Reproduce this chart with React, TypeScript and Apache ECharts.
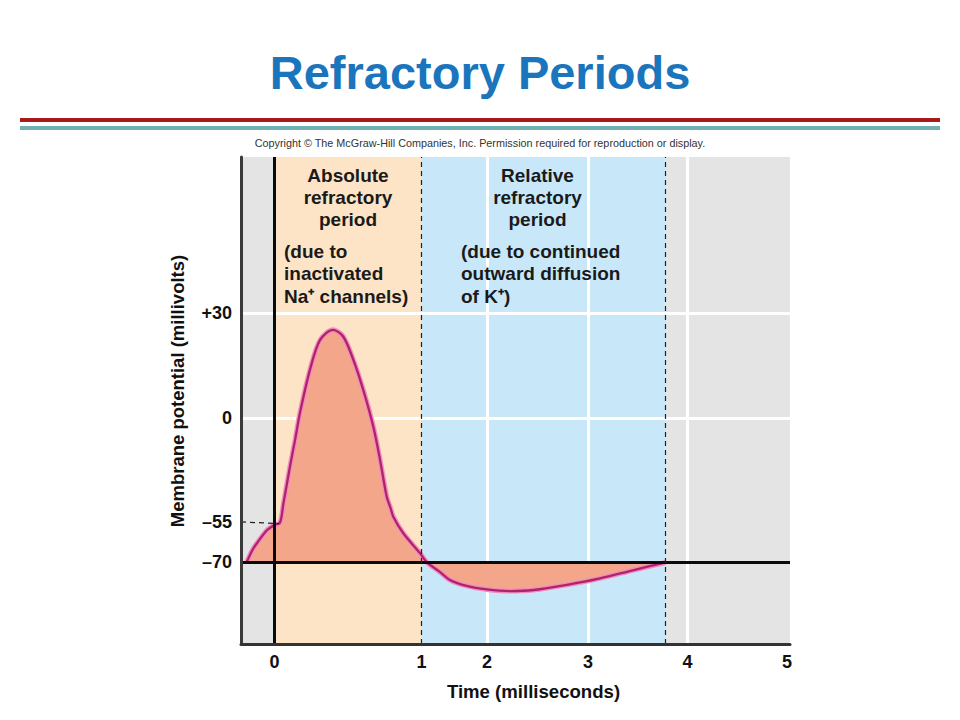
import React, { useEffect, useRef } from "react";
import * as echarts from "echarts";

// ---- Data ----
const TIME_MS = [
  -0.19, -0.15, -0.12, -0.05, 0.0, 0.037, 0.06, 0.105, 0.14, 0.173, 0.241, 0.31,
  0.398, 0.468, 0.536, 0.604, 0.672, 0.718, 0.763, 0.79, 0.808, 0.876, 0.99, 1.084,
  1.28, 1.435, 1.69, 2.0, 2.23, 2.46, 2.79, 3.12, 3.46, 3.78,
];
const POTENTIAL_MV = [
  -70, -65.4, -62.9, -58.0, -56.1, -55.3, -45.6, -25.8, -11.6, 1.4, 13.8, 22.4,
  25.3, 23.3, 16.7, 8.0, -4.6, -22.2, -41.6, -47.8, -52.2, -59.2, -66.6, -70,
  -73.5, -76.5, -78.7, -80.0, -80.6, -80.2, -78.3, -75.9, -72.8, -70,
];

const TIME_TICKS = [0, 1, 2, 3, 4, 5];
const TIME_TICK_LABELS = ["0", "1", "2", "3", "4", "5"];
const VOLT_TICKS = [-70, -55, 0, 30];
const VOLT_TICK_LABELS = ["–70", "–55", "0", "+30"];
const GRID_TIMES = [2, 3, 4];
const GRID_VOLTS = [0, 30];
const RESTING_MV = -70;
const THRESHOLD_MV = -55;
const ABSOLUTE_PERIOD = [0, 1];
const RELATIVE_PERIOD = [1, 3.78];
const TIME_RANGE = [-0.228, 5.03];
const VOLT_RANGE = [-100.2, 74.9];

// ---- Schematic (piecewise-linear) axis scales of the original figure ----
const TIME_SCALE_IN = [0, 1, 2, 3, 4, 5];
const TIME_SCALE_OUT = [0, 147, 212.5, 313.5, 413, 512.5];
const VOLT_SCALE_IN = [-70, -55, 0, 30];
const VOLT_SCALE_OUT = [0, 40.5, 144.5, 249];

function piecewise(v: number, ins: number[], outs: number[]) {
  let i = 0;
  if (v <= ins[0]) i = 0;
  else if (v >= ins[ins.length - 1]) i = ins.length - 2;
  else {
    while (i < ins.length - 2 && v > ins[i + 1]) i++;
  }
  const f = (v - ins[i]) / (ins[i + 1] - ins[i]);
  return outs[i] + f * (outs[i + 1] - outs[i]);
}
const tx = (ms: number) => piecewise(ms, TIME_SCALE_IN, TIME_SCALE_OUT);
const vy = (mv: number) => piecewise(mv, VOLT_SCALE_IN, VOLT_SCALE_OUT);

const FONT = "'Liberation Sans', Arial, Helvetica, sans-serif";

function labelFor(value: number, ticks: number[], labels: string[], map: (v: number) => number) {
  for (let i = 0; i < ticks.length; i++) {
    if (Math.abs(map(ticks[i]) - value) < 1) return labels[i];
  }
  return "";
}

export default function App() {
  const ref = useRef<HTMLDivElement>(null);

  useEffect(() => {
    if (!ref.current) return;
    const chart = echarts.init(ref.current, undefined, { renderer: "svg" });
    const curve = TIME_MS.map((t, i) => [tx(t), vy(POTENTIAL_MV[i])]);
    const dashed = { color: "#222", width: 1.2, type: [5, 4] as any };
    const solidBlack = { color: "#0a0a0a", width: 3, type: "solid" as any };

    const textStyle = (extra: any) => ({
      fontFamily: FONT,
      fontSize: 19,
      fontWeight: "bold",
      fill: "#1a1a1a",
      lineHeight: 22.5,
      verticalAlign: "top",
      textVerticalAlign: "top",
      ...extra,
    });

    chart.setOption({
      animation: false,
      backgroundColor: "#ffffff",
      title: {
        text: "Refractory Periods",
        subtext:
          "Copyright © The McGraw-Hill Companies, Inc. Permission required for reproduction or display.",
        left: "center",
        top: 44,
        itemGap: 41,
        textStyle: { fontSize: 47, fontWeight: "bold", color: "#1b75bc", fontFamily: FONT },
        subtextStyle: { fontSize: 10.8, color: "#333", fontFamily: FONT },
      },
      grid: {
        left: 241,
        right: 170,
        top: 157,
        bottom: 76,
        show: true,
        backgroundColor: "#e4e4e4",
        borderWidth: 0,
      },
      xAxis: {
        type: "value",
        min: tx(TIME_RANGE[0]),
        max: tx(TIME_RANGE[1]),
        z: 6,
        axisLine: { show: true, onZero: false, lineStyle: { color: "#333", width: 3 } },
        axisTick: { show: false },
        splitLine: { show: false },
        axisLabel: {
          customValues: TIME_TICKS.map(tx),
          formatter: (v: number) => labelFor(v, TIME_TICKS, TIME_TICK_LABELS, tx),
          fontSize: 18,
          fontWeight: "bold",
          color: "#111",
          fontFamily: FONT,
          margin: 9,
        },
        name: "Time (milliseconds)",
        nameLocation: "middle",
        nameGap: 38,
        nameTextStyle: {
          fontSize: 18.6,
          fontWeight: "bold",
          color: "#111",
          fontFamily: FONT,
          padding: [0, 0, 0, 36],
        },
      },
      yAxis: {
        type: "value",
        min: vy(VOLT_RANGE[0]),
        max: vy(VOLT_RANGE[1]),
        z: 6,
        axisLine: { show: true, onZero: false, lineStyle: { color: "#3a3a3a", width: 3 } },
        axisTick: { show: false },
        splitLine: { show: false },
        axisLabel: {
          customValues: VOLT_TICKS.map(vy),
          formatter: (v: number) => labelFor(v, VOLT_TICKS, VOLT_TICK_LABELS, vy),
          fontSize: 18,
          fontWeight: "bold",
          color: "#111",
          fontFamily: FONT,
          margin: 9,
        },
        name: "Membrane potential (millivolts)",
        nameLocation: "middle",
        nameGap: 54,
        nameRotate: 90,
        nameTextStyle: {
          fontSize: 18.5,
          fontWeight: "bold",
          color: "#111",
          fontFamily: FONT,
          padding: [0, 0, 0, 19],
        },
      },
      series: [
        {
          type: "line",
          name: "Membrane potential area",
          data: curve,
          smooth: 0.3,
          symbol: "none",
          silent: true,
          z: 3,
          lineStyle: { color: "#f08dbd", width: 5 },
          areaStyle: { color: "#f4a68b", opacity: 1, origin: vy(RESTING_MV) },
          markArea: {
            z: 1,
            silent: true,
            label: { show: false },
            data: [
              [
                { xAxis: tx(ABSOLUTE_PERIOD[0]), itemStyle: { color: "#fde4c6", opacity: 1 } },
                { xAxis: tx(ABSOLUTE_PERIOD[1]) },
              ],
              [
                { xAxis: tx(RELATIVE_PERIOD[0]), itemStyle: { color: "#c8e8fa", opacity: 1 } },
                { xAxis: tx(RELATIVE_PERIOD[1]) },
              ],
            ],
          },
          markLine: {
            z: 2,
            silent: true,
            symbol: "none",
            label: { show: false },
            emphasis: { disabled: true },
            lineStyle: { color: "#ffffff", width: 3, type: "solid" },
            data: [
              ...GRID_TIMES.map((t) => ({ xAxis: tx(t) })),
              ...GRID_VOLTS.map((v) => ({ yAxis: vy(v) })),
            ],
          },
        },
        {
          type: "line",
          name: "Membrane potential",
          data: curve,
          smooth: 0.3,
          symbol: "none",
          silent: true,
          z: 4,
          lineStyle: { color: "#b1226d", width: 2.3 },
          markLine: {
            z: 5,
            silent: true,
            symbol: "none",
            label: { show: false },
            emphasis: { disabled: true },
            data: [
              { xAxis: tx(0), lineStyle: solidBlack },
              { yAxis: vy(RESTING_MV), lineStyle: solidBlack },
              { xAxis: tx(ABSOLUTE_PERIOD[1]), lineStyle: dashed },
              { xAxis: tx(RELATIVE_PERIOD[1]), lineStyle: dashed },
              [
                { coord: [tx(TIME_RANGE[0]), vy(THRESHOLD_MV)], lineStyle: dashed },
                { coord: [tx(0.03), vy(THRESHOLD_MV - 0.6)] },
              ],
            ],
          },
        },
      ],
      graphic: [
        { type: "rect", shape: { x: 20, y: 118, width: 920, height: 4 }, style: { fill: "#a8191c" } },
        { type: "rect", shape: { x: 20, y: 126, width: 920, height: 4 }, style: { fill: "#72b1b3" } },
        {
          type: "text",
          z: 10,
          style: textStyle({
            text: "Absolute\nrefractory\nperiod",
            x: 348,
            y: 164,
            align: "center",
            textAlign: "center",
            lineHeight: 22,
          }),
        },
        {
          type: "text",
          z: 10,
          style: textStyle({
            text: "(due to\ninactivated\nNa⁺ channels)",
            x: 284,
            y: 240,
            align: "left",
            textAlign: "left",
          }),
        },
        {
          type: "text",
          z: 10,
          style: textStyle({
            text: "Relative\nrefractory\nperiod",
            x: 537.5,
            y: 164,
            align: "center",
            textAlign: "center",
            lineHeight: 22,
          }),
        },
        {
          type: "text",
          z: 10,
          style: textStyle({
            text: "(due to continued\noutward diffusion\nof K⁺)",
            x: 461,
            y: 240,
            align: "left",
            textAlign: "left",
          }),
        },
      ],
    });
    return () => chart.dispose();
  }, []);

  return (
    <div
      ref={ref}
      style={{ position: "absolute", left: 0, top: 0, width: 960, height: 720 }}
    />
  );
}
